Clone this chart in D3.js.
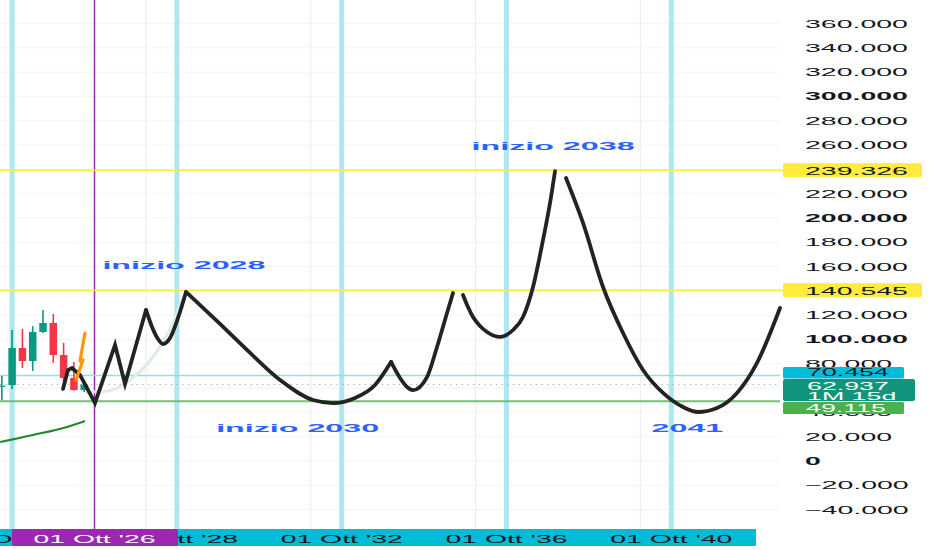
<!DOCTYPE html>
<html><head><meta charset="utf-8">
<script src="https://cdn.jsdelivr.net/npm/d3@7"></script>
<style>body{margin:0;background:#fff;} svg{display:block;} text{font-family:"Liberation Sans",Arial,Helvetica,sans-serif;}</style>
</head><body><svg id="c" width="932" height="550"></svg>
<script>
// ---------- DATA ----------
const priceTicks = [-40000,-20000,0,20000,40000,60000,80000,100000,120000,140000,160000,180000,200000,220000,240000,260000,280000,300000,320000,340000,360000];
const boldTicks = [0,100000,200000,300000];
const resistanceLevels = [239326, 140545];
const cyanLevel = 70454;
const currentPrice = 62937;
const currentCountdown = "1M 15d";
const greenLevel = 49115;

const cycleLines = [2024.75, 2028.75, 2032.75, 2036.75, 2040.75];
const gridYears = [2028, 2032, 2036, 2040];
const timeLabelYears = [2024.75, 2028.75, 2032.75, 2036.75, 2040.75];
const timeLabels = ["01 Ott '24", "01 Ott '28", "01 Ott '32", "01 Ott '36", "01 Ott '40"];
const markerYear = 2026.75;
const markerLabel = "01 Ott '26";

const candleTimes = [2024.5,2024.75,2025.0,2025.25,2025.5,2025.75,2026.0,2026.25,2026.5];
const candleOpen  = [61000,62500,93000,82300,106200,113600,87200,68300,58400];
const candleHigh  = [70000,107800,108600,111100,124300,121000,97100,81500,65000];
const candleLow   = [50000,59300,76500,74100,105300,80700,60100,58000,56800];
const candleClose = [62000,93000,82300,106200,113600,87200,68300,58400,62937];

const maLine = [[2024.456,15600],[2025.257,21400],[2026.083,28000],[2026.519,32900]];
const ghostLine = [[2026.568,56800],[2027.053,57500],[2027.612,66700],[2028.17,85600],[2028.655,113600],[2028.898,134200]];
const lightning = [[2026.519,105300],[2026.398,82300],[2026.471,83100],[2026.301,66700]];

const zigzag = [[2025.985,59300],[2026.107,74900],[2026.204,76500],[2026.398,70800],[2026.762,47700],[2027.248,95500],[2027.49,63400],[2028.0,124300]];
const arc1 = [[2028.0,124300],[2028.146,110300],[2028.291,100400],[2028.413,96300],[2028.583,101200],[2028.777,117700],[2028.971,139100]];
const arc2 = [[2028.971,139100],[2029.796,112800],[2030.451,91400],[2031.252,66700],[2032.053,50200],[2032.539,47700],[2033.073,51900],[2033.558,62600],[2033.947,81500]];
const arc3 = [[2033.947,81500],[2034.165,68300],[2034.335,60900],[2034.481,58400],[2034.82,69100],[2035.063,93800],[2035.306,121800],[2035.451,138300]];
const arc4 = [[2035.694,136600],[2035.815,126700],[2035.937,118500],[2036.107,111100],[2036.277,106200],[2036.592,102100],[2036.908,107800],[2037.15,118500],[2037.393,143200],[2037.636,181900],[2037.806,212300],[2037.927,238500]];
const arc5 = [[2038.194,232900],[2038.607,195900],[2039.092,143200],[2039.578,105300],[2040.063,74900],[2040.549,56000],[2041.034,44400],[2041.398,40300],[2041.859,43600],[2042.345,56000],[2042.83,80700],[2043.388,125900]];

const annotations = ["inizio 2028", "inizio 2030", "inizio 2038", "2041"];
const annotationYears = [2028.92, 2031.68, 2037.88, 2041.14];
const annotationValues = [158400, 23500, 255600, 23900];

// ---------- RENDER ----------
const svg = d3.select("#c");
const FONT = '"Liberation Sans", Arial, Helvetica, sans-serif';
const plotR = 780, bandTop = 529;
const x = d3.scaleLinear().domain([2024.456, 2043.388]).range([0, plotR]);
const y = d3.scaleLinear().domain([-56800, 379400]).range([530, 0]);
const it = d3.formatLocale({decimal:",", thousands:".", grouping:[3], currency:["€",""], minus:"\u2212"});
const fmt = it.format(",.0f");

svg.append("rect").attr("width",932).attr("height",550).attr("fill","#fff");

const plot = svg.append("g");
plot.selectAll(".hg").data(priceTicks).join("line")
  .attr("x1",0).attr("x2",plotR).attr("y1",d=>y(d)).attr("y2",d=>y(d))
  .attr("stroke","#f3f4f7").attr("stroke-width",1);
plot.selectAll(".vg").data(gridYears).join("line")
  .attr("x1",d=>x(d)).attr("x2",d=>x(d)).attr("y1",0).attr("y2",bandTop)
  .attr("stroke","#eceef2").attr("stroke-width",1.2);
plot.selectAll(".cy").data(cycleLines).join("line")
  .attr("x1",d=>x(d)).attr("x2",d=>x(d)).attr("y1",0).attr("y2",bandTop)
  .attr("stroke","#aee7ef").attr("stroke-width",5);
plot.append("line").attr("x1",x(markerYear)).attr("x2",x(markerYear)).attr("y1",0).attr("y2",bandTop)
  .attr("stroke","#9C27B0").attr("stroke-width",1.5);

plot.selectAll(".res").data(resistanceLevels).join("line")
  .attr("x1",0).attr("x2",plotR+3).attr("y1",d=>y(d)).attr("y2",d=>y(d))
  .attr("stroke","#FFEB3B").attr("stroke-width",1.6);
plot.append("line").attr("x1",0).attr("x2",plotR).attr("y1",y(cyanLevel)).attr("y2",y(cyanLevel))
  .attr("stroke","#92dde6").attr("stroke-width",1.5);
plot.append("line").attr("x1",0).attr("x2",plotR).attr("y1",y(greenLevel)).attr("y2",y(greenLevel))
  .attr("stroke","#76bd7a").attr("stroke-width",2);
plot.append("line").attr("x1",0).attr("x2",plotR).attr("y1",y(currentPrice)).attr("y2",y(currentPrice))
  .attr("stroke","#9fb3ad").attr("stroke-width",1.2).attr("stroke-dasharray","1.2,4.5");

const cw = 7.5;
candleTimes.forEach((t,i)=>{
  const up = candleClose[i] >= candleOpen[i];
  const col = up ? "#089981" : "#F23645";
  const cx = x(t);
  plot.append("line").attr("x1",cx).attr("x2",cx).attr("y1",y(candleHigh[i])).attr("y2",y(candleLow[i]))
    .attr("stroke",col).attr("stroke-width",1.6);
  const top = y(Math.max(candleOpen[i],candleClose[i])), bot = y(Math.min(candleOpen[i],candleClose[i]));
  plot.append("rect").attr("x",cx-cw/2).attr("y",top).attr("width",cw).attr("height",Math.max(1,bot-top)).attr("fill",col);
});

const lineLin = d3.line().x(d=>x(d[0])).y(d=>y(d[1]));
const lineCurve = d3.line().x(d=>x(d[0])).y(d=>y(d[1])).curve(d3.curveMonotoneX);

plot.append("path").attr("d",lineCurve(maLine)).attr("fill","none").attr("stroke","#1e8a2a").attr("stroke-width",2);
plot.append("path").attr("d",lineCurve(ghostLine)).attr("fill","none").attr("stroke","#e0eae4").attr("stroke-width",3).attr("stroke-linecap","round");

const blk = {stroke:"#232323", w:3.8};
plot.append("path").attr("d",lineLin(zigzag)).attr("fill","none").attr("stroke",blk.stroke).attr("stroke-width",blk.w)
  .attr("stroke-linejoin","miter").attr("stroke-linecap","round");
[arc1,arc2,arc3,arc4,arc5].forEach(a=>{
  plot.append("path").attr("d",lineCurve(a)).attr("fill","none").attr("stroke",blk.stroke).attr("stroke-width",blk.w)
    .attr("stroke-linecap","round");
});
plot.append("path").attr("d",lineLin(lightning)).attr("fill","none").attr("stroke","#FF9800").attr("stroke-width",3.2)
  .attr("stroke-linejoin","round").attr("stroke-linecap","round");

annotations.forEach((txt,i)=>{
  svg.append("text").attr("transform",`translate(${x(annotationYears[i])},${y(annotationValues[i])}) scale(2.93,1)`)
    .attr("text-anchor","middle").attr("font-family",FONT).attr("font-size",11).attr("font-weight","bold").attr("fill","#2962FF").text(txt);
});

const ax = svg.append("g");
priceTicks.forEach(v=>{
  ax.append("text").attr("transform",`translate(805,${y(v)+4}) scale(2.59,1)`)
    .attr("font-family",FONT).attr("font-size",11).attr("fill","#131722").attr("font-weight", boldTicks.includes(v)?"bold":"normal")
    .text(fmt(v));
});
resistanceLevels.forEach(v=>{
  ax.append("rect").attr("x",783).attr("y",y(v)-7).attr("width",139).attr("height",14).attr("rx",1.5).attr("fill","#FFEB3B");
  ax.append("text").attr("transform",`translate(805,${y(v)+4.5}) scale(2.59,1)`)
    .attr("font-family",FONT).attr("font-size",11).attr("fill","#131722").text(fmt(v));
});
ax.append("rect").attr("x",783).attr("y",y(cyanLevel)-8.5).attr("width",121).attr("height",11.5).attr("rx",1.5).attr("fill","#00BCD4");
ax.append("text").attr("transform",`translate(807,${y(cyanLevel)+0.4}) scale(2.55,1)`)
  .attr("font-family",FONT).attr("font-size",10.5).attr("fill","#131722").text(fmt(cyanLevel));
ax.append("rect").attr("x",783).attr("y",y(currentPrice)-5.5).attr("width",132).attr("height",22).attr("rx",2).attr("fill","#12957d");
ax.append("text").attr("transform",`translate(807,${y(currentPrice)+5.5}) scale(2.55,1)`)
  .attr("font-family",FONT).attr("font-size",10.5).attr("fill","#fff").text(fmt(currentPrice));
ax.append("text").attr("transform",`translate(807,${y(currentPrice)+15.5}) scale(2.55,1)`)
  .attr("font-family",FONT).attr("font-size",10.5).attr("fill","#fff").text(currentCountdown);
ax.append("rect").attr("x",783).attr("y",y(greenLevel)+0.8).attr("width",121).attr("height",12).attr("rx",1.5).attr("fill","#4CAF50");
ax.append("text").attr("transform",`translate(806,${y(greenLevel)+11}) scale(2.55,1)`)
  .attr("font-family",FONT).attr("font-size",10.5).attr("fill","#fff").text(fmt(greenLevel));

const band = svg.append("g");
band.append("rect").attr("x",0).attr("y",bandTop).attr("width",756).attr("height",17).attr("fill","#00BCD4");
timeLabelYears.forEach((t,i)=>{
  band.append("text").attr("transform",`translate(${x(t)},543) scale(2.58,1)`)
    .attr("text-anchor","middle").attr("font-family",FONT).attr("font-size",11).attr("fill","#131722").text(timeLabels[i]);
});
band.append("rect").attr("x",12).attr("y",bandTop).attr("width",166).attr("height",17).attr("rx",2).attr("fill","#9C27B0");
band.append("text").attr("transform",`translate(${x(markerYear)},543) scale(2.58,1)`)
  .attr("text-anchor","middle").attr("font-family",FONT).attr("font-size",11).attr("fill","#fff").text(markerLabel);
</script></body></html>
